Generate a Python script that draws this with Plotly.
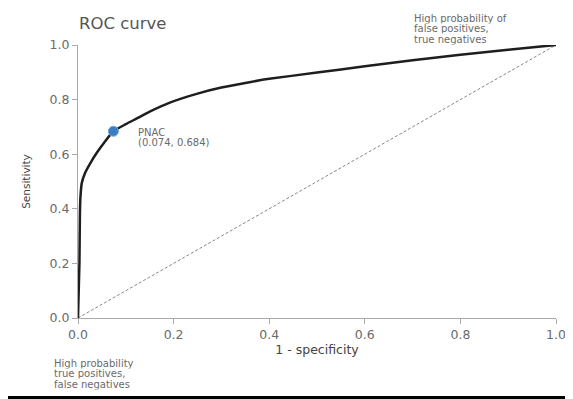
import plotly.graph_objects as go

# ROC curve values
fpr = [0, 0.003, 0.004, 0.005, 0.008, 0.015, 0.025, 0.04, 0.055, 0.074, 0.1, 0.123, 0.15, 0.192,
       0.25, 0.3, 0.35, 0.4, 0.5, 0.6, 0.7, 0.8, 0.9, 1.0]
tpr = [0, 0.2, 0.38, 0.44, 0.495, 0.532, 0.565, 0.607, 0.643, 0.684, 0.71, 0.731, 0.756, 0.789,
       0.822, 0.844, 0.861, 0.876, 0.899, 0.922, 0.944, 0.964, 0.983, 1.0]
chance = [0, 1]
point_x = [0.074]
point_y = [0.684]
point_lines = ["PNAC", "(0.074, 0.684)"]
top_right_lines = ["High probability of", "false positives,", "true negatives"]
bottom_left_lines = ["High probability", "true positives,", "false negatives"]
x_ticks = [0, 0.2, 0.4, 0.6, 0.8, 1.0]
y_ticks = [0, 0.2, 0.4, 0.6, 0.8, 1.0]

W, H = 573, 399
OFF = 8  # page body margin
L, R, T, B = 70, 25, 37, 89
pw, ph = W - L - R, H - T - B

def px(vx):
    return (vx - OFF - L) / pw

def py(vy):
    return (H - B - (vy - OFF)) / ph

FONT = "DejaVu Sans, Verdana, sans-serif"
GREY = "#6a6a6a"
TXT = 10

fig = go.Figure()
fig.add_trace(go.Scatter(x=chance, y=chance, mode="lines",
                         line=dict(color="#888888", width=1, dash="3px,2px"),
                         hoverinfo="skip", showlegend=False))
fig.add_trace(go.Scatter(x=fpr, y=tpr, mode="lines",
                         line=dict(color="#1e1e1e", width=2.5, shape="spline", smoothing=0.5),
                         showlegend=False))
fig.add_trace(go.Scatter(x=point_x, y=point_y, mode="markers",
                         marker=dict(color="#3b7dc0", size=10, line=dict(color="#6aa6e0", width=1)),
                         showlegend=False))

def add_lines(lines, vx, vy0, step):
    for i, s in enumerate(lines):
        fig.add_annotation(x=px(vx), y=py(vy0 + i * step), xref="paper", yref="paper",
                           text=s, showarrow=False, xanchor="left", yanchor="middle",
                           align="left", height=step, borderpad=0,
                           font=dict(family=FONT, size=TXT, color=GREY))

add_lines(point_lines, 137, 132, 10.5)
add_lines(top_right_lines, 413, 18.5, 10.5)
add_lines(bottom_left_lines, 53, 363, 10.5)

fig.add_annotation(x=px(77), y=py(23), xref="paper", yref="paper", text="ROC curve",
                   showarrow=False, xanchor="left", yanchor="middle",
                   font=dict(family=FONT, size=16.5, color="#555555"))

# photographed frame border (bottom edge)
fig.add_shape(type="rect", xref="paper", yref="paper",
              x0=px(0), x1=px(W + 20), y0=py(H + 20), y1=py(396),
              fillcolor="black", line=dict(width=0), layer="above")

axis_common = dict(showgrid=False, zeroline=False, showline=True, linecolor="#aaaaaa",
                   linewidth=1, ticks="outside", ticklen=5, tickcolor="#aaaaaa",
                   tickfont=dict(family=FONT, size=12.5, color=GREY), tickformat=".1f")
fig.update_xaxes(range=[0, 1], tickvals=x_ticks,
                 title=dict(text="1 - specificity",
                            font=dict(family=FONT, size=12.5, color="#444444"), standoff=2),
                 **axis_common)
fig.update_yaxes(range=[0, 1], tickvals=y_ticks,
                 title=dict(text="Sensitivity",
                            font=dict(family=FONT, size=10.5, color="#444444"), standoff=16),
                 **axis_common)

fig.update_layout(width=W, height=H, margin=dict(l=L, r=R, t=T, b=B),
                  paper_bgcolor="white", plot_bgcolor="white")
fig.update_traces(cliponaxis=False)
fig.write_html("out.html")
